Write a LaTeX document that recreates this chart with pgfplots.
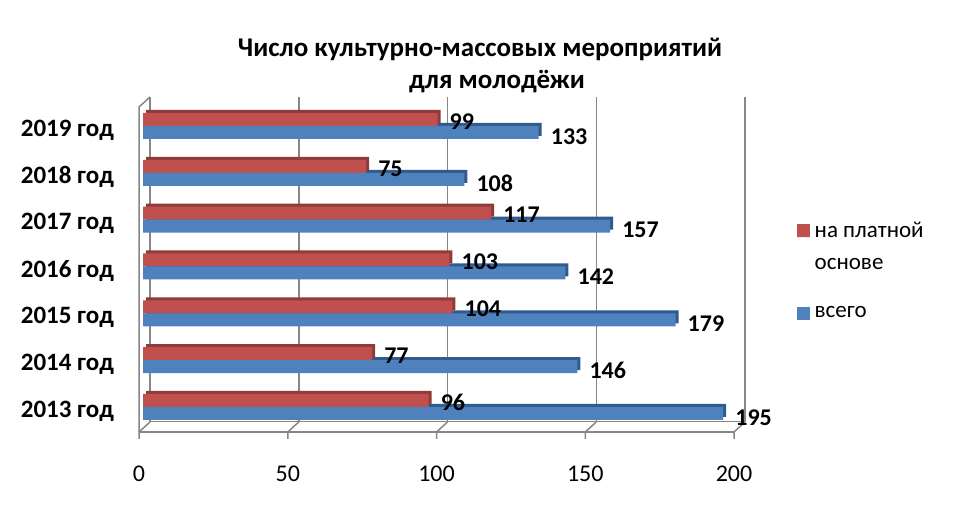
\documentclass[border=0pt]{standalone}
\usepackage{fontspec}
\setmainfont{Carlito}
\usepackage{pgfplots}
\pgfplotsset{compat=1.18}
\definecolor{redF}{HTML}{C0504D}
\definecolor{redT}{HTML}{8E3B39}
\definecolor{bluF}{HTML}{4F81BD}
\definecolor{bluT}{HTML}{2F5B8E}
\definecolor{gridc}{HTML}{868686}
\pgfplotstableread{
y paid total
0 96 195
1 77 146
2 104 179
3 103 142
4 117 157
5 75 108
6 99 133
}\datatab
\begin{document}
\begin{tikzpicture}[x=1pt,y=1pt]
\useasboundingbox (0,0) rectangle (960,510);
\node[font=\fontsize{27}{32}\selectfont\bfseries, anchor=base, inner sep=0pt] at (480,453) {Число культурно-массовых мероприятий};
\node[font=\fontsize{27}{32}\selectfont\bfseries, anchor=base, inner sep=0pt] at (497,421) {для молодёжи};
% walls and floor
\draw[gridc, line width=1.5pt] (139,78) -- (734,78);
\draw[gridc, line width=1pt] (150,88) -- (745,88);
\draw[gridc, line width=1.5pt] (139,78) -- (139,403) -- (150,413);
\foreach \v in {0,1,2,3,4} {
  \draw[gridc, line width=1.5pt] (139+\v*148.75,71) -- (139+\v*148.75,78) -- ++(11,10);
}
\begin{axis}[
  at={(139pt,78pt)}, anchor=south west, scale only axis,
  width=595pt, height=325pt,
  xmin=0, xmax=200, ymin=-0.534, ymax=6.406,
  /pgf/number format/assume math mode=true,
  axis line style={draw=none},
  xtick={0,50,100,150,200},
  ytick={0,...,6},
  yticklabels={2013 год,2014 год,2015 год,2016 год,2017 год\hspace{4pt},2018 год,2019 год},
  major tick length=0pt,
  xmajorgrids,
  major grid style={gridc, line width=1.5pt, xshift=11pt, yshift=10pt},
  xticklabel style={font=\fontsize{24}{28}\selectfont, anchor=base, inner sep=0pt, yshift=-50pt},
  yticklabel style={font=\fontsize{25}{28}\selectfont\bfseries, anchor=east, inner sep=0pt, xshift=-25pt, yshift=-4pt},
  xbar,
  legend style={at={(axis description cs:1.100,0.66)}, anchor=north west, draw=none, fill=none,
    font=\fontsize{23}{32}\selectfont, cells={anchor=west, align=left}, row sep=32pt},
]
\addplot[xbar, bar width=13pt, bar shift=-3.5pt, xshift=7pt, fill=bluT, draw=none, forget plot] table[x=total,y=y] {\datatab};
\addplot[xbar, bar width=13pt, bar shift=9.5pt, xshift=7pt, fill=redT, draw=none, forget plot] table[x=paid,y=y] {\datatab};
\addplot[xbar, bar width=13pt, bar shift=6.5pt, xshift=4pt, fill=redF, draw=none,
  legend image code/.code={\fill[redF] (0pt,9pt) rectangle (13pt,22pt); \path (0pt,9pt) -- (16pt,9pt);}] table[x=paid,y=y] {\datatab};
\addlegendentry{на платной\\основе}
\addplot[xbar, bar width=13pt, bar shift=-6.5pt, xshift=4pt, fill=bluF, draw=none,
  legend image code/.code={\fill[bluF] (0pt,-6.5pt) rectangle (13pt,6.5pt); \path (0pt,0pt) -- (16pt,0pt);}] table[x=total,y=y] {\datatab};
\addlegendentry{всего}
\addplot[xbar, bar width=13pt, bar shift=6.5pt, xshift=4pt, fill=none, draw=none, forget plot,
  nodes near coords, every node near coord/.append style={font=\fontsize{24}{28}\selectfont\bfseries, anchor=west, inner sep=0pt, xshift=12pt, yshift=-2pt}] table[x=paid,y=y] {\datatab};
\addplot[xbar, bar width=13pt, bar shift=-6.5pt, xshift=4pt, fill=none, draw=none, forget plot,
  nodes near coords, every node near coord/.append style={font=\fontsize{24}{28}\selectfont\bfseries, anchor=west, inner sep=0pt, xshift=12pt, yshift=-4pt}] table[x=total,y=y] {\datatab};
\end{axis}
\end{tikzpicture}
\end{document}
